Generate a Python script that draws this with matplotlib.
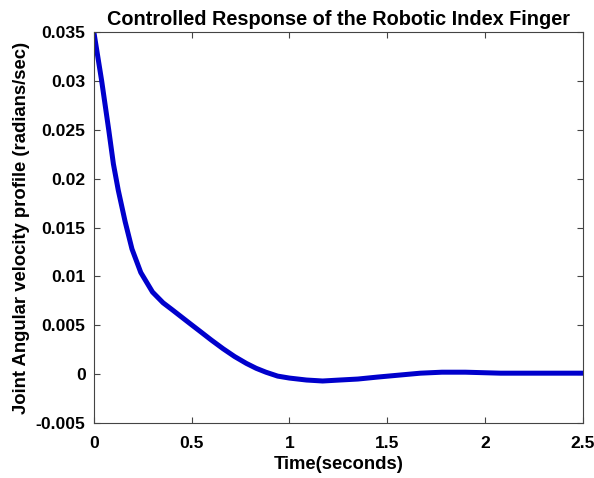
import numpy as np
import matplotlib.pyplot as plt

# values
time_s = [0, 0.04, 0.076, 0.1, 0.125, 0.16, 0.195, 0.24, 0.3, 0.354, 0.4, 0.49, 0.542,
          0.6, 0.661, 0.72, 0.78, 0.83, 0.88, 0.94, 1.0, 1.087, 1.17, 1.258, 1.35, 1.45,
          1.56, 1.67, 1.78, 1.9, 2.08, 2.3, 2.5]
velocity = [0.035, 0.030, 0.025, 0.0215, 0.0188, 0.0156, 0.0128, 0.0104, 0.0084, 0.0073,
            0.0066, 0.0052, 0.0044, 0.0035, 0.0026, 0.0018, 0.0011, 0.0006, 0.0002,
            -0.0002, -0.0004, -0.0006, -0.0007, -0.0006, -0.0005, -0.0003, -0.0001,
            0.0001, 0.0002, 0.0002, 0.0001, 0.0001, 0.0001]

plt.rcParams['font.family'] = ['Liberation Sans', 'DejaVu Sans']
plt.rcParams['font.weight'] = 'bold'

fig = plt.figure(figsize=(5.94, 4.78), dpi=100)
ax = fig.add_axes([0.158, 0.115, 0.823, 0.818])
ax.plot(time_s, velocity, color='#0000CC', linewidth=3.6, solid_capstyle='round',
        solid_joinstyle='round')

ax.set_xlim(0, 2.5)
ax.set_ylim(-0.005, 0.035)
ax.set_xticks([0, 0.5, 1, 1.5, 2, 2.5])
ax.set_xticklabels(['0', '0.5', '1', '1.5', '2', '2.5'])
ax.set_yticks(np.arange(-0.005, 0.0351, 0.005))
ax.set_yticklabels(['-0.005', '0', '0.005', '0.01', '0.015', '0.02', '0.025', '0.03', '0.035'])
ax.tick_params(direction='in', top=True, right=True, length=4, width=0.8,
               color='#444444', labelsize=12.6)
ax.tick_params(axis='x', pad=9)
ax.tick_params(axis='y', pad=6)
for s in ax.spines.values():
    s.set_color('#444444')
    s.set_linewidth(0.8)

ax.set_title('Controlled Response of the Robotic Index Finger', fontsize=14.3,
             fontweight='bold', pad=5)
ax.set_xlabel('Time(seconds)', fontsize=13.3, fontweight='bold', labelpad=4)
ax.set_ylabel('Joint Angular velocity profile (radians/sec)', fontsize=13.3,
              fontweight='bold', labelpad=4)

fig.savefig('out.png', dpi=100)
